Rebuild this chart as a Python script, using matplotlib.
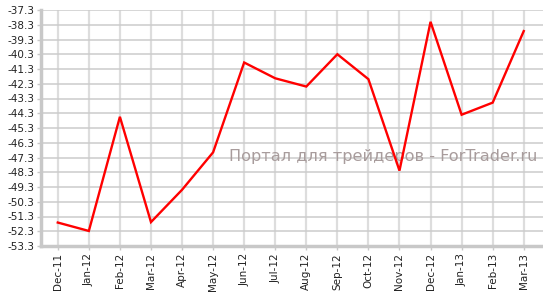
import matplotlib
matplotlib.use("Agg")
import matplotlib.pyplot as plt

months = ["Dec-11", "Jan-12", "Feb-12", "Mar-12", "Apr-12", "May-12", "Jun-12", "Jul-12",
          "Aug-12", "Sep-12", "Oct-12", "Nov-12", "Dec-12", "Jan-13", "Feb-13", "Mar-13"]
values = [-51.71, -52.28, -44.54, -51.68, -49.49, -46.95, -40.86, -41.93,
          -42.49, -40.30, -41.99, -48.19, -38.10, -44.40, -43.58, -38.73]
ytick_values = [-37.3 - i for i in range(17)]
ytick_labels = ["%.1f" % v for v in ytick_values]

fig = plt.figure(figsize=(5.43, 2.93), dpi=100)
ax = fig.add_axes([41/543, 47/293, 1 - 41/543, 236/293])

x = list(range(len(months)))
ax.plot(x, values, color="#ff0000", lw=1.7, zorder=3, solid_joinstyle="miter")

ax.set_xlim(-0.54, 15.62)
ax.set_ylim(-53.3, -37.3)
ax.set_yticks(ytick_values)
ax.set_yticklabels(ytick_labels)
ax.set_xticks(x)
ax.set_xticklabels(months, rotation=90)

ax.yaxis.grid(True, color="#cccccc", lw=1.1)
ax.xaxis.grid(True, color="#dddddd", lw=1.6)
ax.set_axisbelow(True)

for s in ["top", "right"]:
    ax.spines[s].set_visible(False)
for s in ["left", "bottom"]:
    ax.spines[s].set_color("#c8c8c8")
    ax.spines[s].set_linewidth(2.5)

ax.tick_params(axis="both", colors="#c8c8c8", labelcolor="#222222", labelsize=7.5,
               length=3, width=1)
ax.tick_params(axis="y", pad=2)
ax.tick_params(axis="x", pad=2)

ax.text(383/543, 1 - 157/293, "Портал для трейдеров - ForTrader.ru", transform=fig.transFigure,
        ha="center", va="center", fontsize=11.6, color="#a89c9c", zorder=2)

fig.savefig("out.png", dpi=100)
